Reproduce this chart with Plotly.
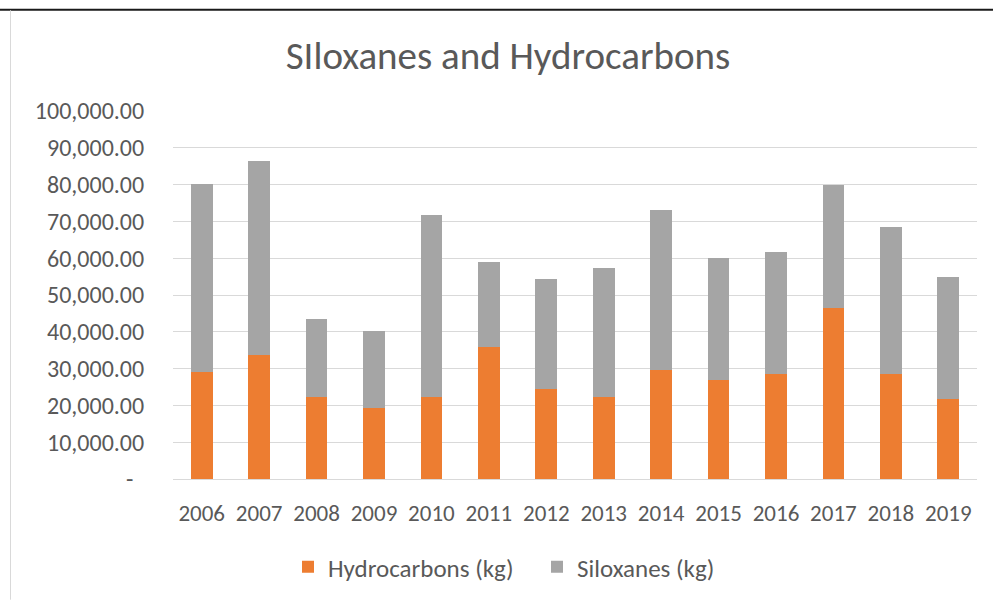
import plotly.graph_objects as go

years = ["2006", "2007", "2008", "2009", "2010", "2011", "2012",
         "2013", "2014", "2015", "2016", "2017", "2018", "2019"]
hydrocarbons = [29100, 33600, 22200, 19400, 22200, 35800, 24500,
                22300, 29700, 26800, 28500, 46500, 28500, 21800]
siloxanes = [51000, 52900, 21400, 20800, 49600, 23100, 29900,
             35000, 43300, 33200, 33100, 33400, 40000, 33200]
y_tickvals = [0, 10000, 20000, 30000, 40000, 50000, 60000, 70000, 80000, 90000, 100000]
y_ticktext = ["-\u00a0\u00a0"] + [f"{v:,.2f}" for v in y_tickvals[1:]]

W, H = 993, 601
ML, MR, MT, MB = 173, 16, 111, 121
PW, PH = W - ML - MR, H - MT - MB

FONT = "Carlito, Lato, sans-serif"
TXT = "#595959"

fig = go.Figure()
fig.add_trace(go.Bar(x=years, y=hydrocarbons, name="Hydrocarbons (kg)",
                     marker=dict(color="#ED7D31", line=dict(width=0))))
fig.add_trace(go.Bar(x=years, y=siloxanes, name="Siloxanes (kg)",
                     marker=dict(color="#A5A5A5", line=dict(width=0))))


def px_x(p):
    return (p - ML) / PW


def px_y(p):
    return (H - MB - p) / PH


fig.update_layout(
    width=W, height=H,
    margin=dict(l=ML, r=MR, t=MT, b=MB, pad=0),
    paper_bgcolor="white", plot_bgcolor="white",
    barmode="stack", bargap=0.62,
    font=dict(family=FONT, color=TXT, size=20),
    title=dict(text="SIloxanes and Hydrocarbons", x=508 / W, xanchor="center",
               y=1 - 55 / H, yanchor="middle", xref="container", yref="container",
               font=dict(family=FONT, size=39, color=TXT)),
    xaxis=dict(type="category", showgrid=False, showline=False, zeroline=False,
               ticks="outside", ticklen=13, tickcolor="rgba(0,0,0,0)",
               tickfont=dict(family=FONT, size=23, color=TXT)),
    yaxis=dict(range=[0, 100000], tickvals=y_tickvals, ticktext=y_ticktext,
               showgrid=True, gridcolor="#D9D9D9", gridwidth=1,
               zeroline=True, zerolinecolor="#D9D9D9", zerolinewidth=1,
               showline=False, ticks="outside", ticklen=23,
               tickcolor="rgba(0,0,0,0)",
               tickfont=dict(family=FONT, size=24, color=TXT)),
    legend=dict(orientation="h", x=px_x(288), xanchor="left",
                y=px_y(567), yanchor="middle",
                entrywidth=204, entrywidthmode="pixels",
                font=dict(family=FONT, size=25, color=TXT),
                traceorder="normal"),
    showlegend=True,
    shapes=[
        dict(type="line", xref="paper", yref="paper",
             x0=px_x(0), x1=px_x(W), y0=px_y(9.5), y1=px_y(9.5),
             line=dict(color="#1a1a1a", width=2)),
        dict(type="line", xref="paper", yref="paper",
             x0=px_x(10.5), x1=px_x(10.5), y0=px_y(10), y1=px_y(H),
             line=dict(color="#D9D9D9", width=1)),
    ],
)

fig.write_html("out.html", config={"displayModeBar": False},
               post_script="document.body.style.margin='0';")
